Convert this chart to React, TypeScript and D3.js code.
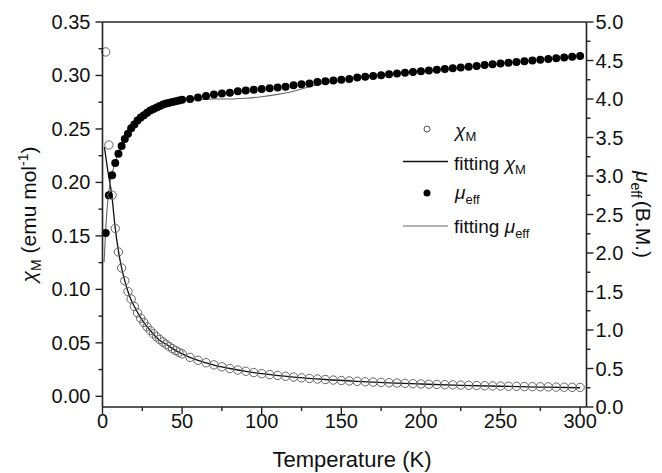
import React from "react";
import * as d3 from "d3";

// measured temperatures (K)
const temps = [
  2, 4, 6, 8, 10, 12, 14, 16, 18, 20, 22, 24, 26, 28, 30, 32, 34, 36, 38, 40, 42, 44, 46, 48, 50,
  55, 60, 65, 70, 75, 80, 85, 90, 95, 100, 105, 110, 115, 120, 125, 130, 135, 140, 145, 150,
  155, 160, 165, 170, 175, 180, 185, 190, 195, 200, 205, 210, 215, 220, 225, 230, 235, 240,
  245, 250, 255, 260, 265, 270, 275, 280, 285, 290, 295, 300,
];

// chi_M (emu/mol), open circles, left axis
const chiM = [
  0.322, 0.235, 0.188, 0.157, 0.135, 0.12, 0.108, 0.098, 0.091, 0.084, 0.078, 0.073, 0.069,
  0.065, 0.0615, 0.0585, 0.0556, 0.0531, 0.0508, 0.0486, 0.0464, 0.0445, 0.0428, 0.0412, 0.0397,
  0.0364, 0.0337, 0.0314, 0.0294, 0.0276, 0.026, 0.0246, 0.0234, 0.0222, 0.0212, 0.0203, 0.0195,
  0.0187, 0.018, 0.0173, 0.0167, 0.0162, 0.0157, 0.0152, 0.0148, 0.0144, 0.014, 0.0136, 0.0133,
  0.013, 0.0127, 0.0124, 0.0121, 0.0118, 0.0116, 0.0113, 0.0111, 0.0109, 0.0107, 0.0105, 0.0103,
  0.0101, 0.0099, 0.0097, 0.0096, 0.0094, 0.0093, 0.0091, 0.009, 0.0089, 0.0088, 0.0086, 0.0085,
  0.0084, 0.0083,
];

// mu_eff (B.M.), filled circles, right axis
const muEff = [
  2.26, 2.75, 3.01, 3.17, 3.29, 3.39, 3.48, 3.55, 3.62, 3.67, 3.72, 3.76, 3.79, 3.82, 3.85, 3.87,
  3.89, 3.91, 3.93, 3.94, 3.95, 3.96, 3.97, 3.98, 3.99, 4.0, 4.02, 4.04, 4.06, 4.07, 4.08, 4.1,
  4.11, 4.12, 4.13, 4.14, 4.15, 4.16, 4.18, 4.19, 4.2, 4.22, 4.23, 4.24, 4.25, 4.26, 4.28, 4.29,
  4.3, 4.31, 4.32, 4.33, 4.34, 4.35, 4.36, 4.37, 4.38, 4.39, 4.4, 4.41, 4.42, 4.43, 4.44, 4.45,
  4.46, 4.47, 4.48, 4.49, 4.5, 4.51, 4.52, 4.53, 4.54, 4.55, 4.56,
];

// fitted curves
const fitChiT = [1.2, 3, 6, 8, 10, 12, 14, 16, 18, 20, 25, 30, 35, 40, 45, 50, 60, 70, 80, 90, 100, 120, 140, 160, 180, 200, 225, 250, 275, 300];
const fitChi = [0.233, 0.214, 0.186, 0.157, 0.136, 0.12, 0.108, 0.098, 0.09, 0.084, 0.071, 0.0615, 0.0535, 0.0486, 0.0437, 0.0397, 0.0335, 0.0292, 0.026, 0.0233, 0.0212, 0.018, 0.0157, 0.014, 0.0126, 0.0115, 0.0103, 0.0094, 0.0086, 0.008];

const fitMuT = [1, 2, 3, 4, 5, 6, 8, 10, 12, 15, 20, 25, 30, 40, 50, 60, 70, 80, 90, 100, 110, 120, 130, 140, 150, 160, 180, 200, 220, 250, 280, 300];
const fitMu = [1.88, 2.3, 2.6, 2.8, 2.94, 3.03, 3.18, 3.3, 3.4, 3.53, 3.68, 3.78, 3.85, 3.94, 3.98, 3.99, 4.0, 4.0, 4.01, 4.03, 4.06, 4.1, 4.16, 4.21, 4.24, 4.27, 4.32, 4.36, 4.4, 4.46, 4.52, 4.56];

const xTicks = [0, 50, 100, 150, 200, 250, 300];
const xMinor = [25, 75, 125, 175, 225, 275];
const leftTicks = [0, 0.05, 0.1, 0.15, 0.2, 0.25, 0.3, 0.35];
const leftMinor = [0.025, 0.075, 0.125, 0.175, 0.225, 0.275, 0.325];
const rightTicks = [0, 0.5, 1, 1.5, 2, 2.5, 3, 3.5, 4, 4.5, 5];
const rightMinor = [0.25, 0.75, 1.25, 1.75, 2.25, 2.75, 3.25, 3.75, 4.25, 4.75];

const W = 662;
const H = 473;
const L = 102.5;
const R = 586.5;
const T = 22;
const B = 407;
const FONT = "'Liberation Sans', Arial, Helvetica, sans-serif";

const App = () => {
  const x = d3.scaleLinear().domain([0, 304]).range([L, R]);
  const yL = d3.scaleLinear().domain([-0.01, 0.35]).range([B, T]);
  const yR = d3.scaleLinear().domain([0, 5]).range([B, T]);

  const chiLine = d3
    .line<number>()
    .x((_, i) => x(fitChiT[i]))
    .y((d) => yL(d))
    .curve(d3.curveMonotoneX);
  const muLine = d3
    .line<number>()
    .x((_, i) => x(fitMuT[i]))
    .y((d) => yR(d))
    .curve(d3.curveMonotoneX);

  const axisColor = "#222";

  return (
    <svg
      width={W}
      height={H}
      style={{ position: "absolute", left: 0, top: 0, background: "#fff" }}
      fontFamily={FONT}
    >
      {/* fit curves */}
      <path d={chiLine(fitChi) || ""} fill="none" stroke="#111" strokeWidth={1.3} />
      <path d={muLine(fitMu) || ""} fill="none" stroke="#666" strokeWidth={1.1} />

      {/* mu_eff filled circles */}
      {muEff.map((v, i) => (
        <circle key={"m" + i} cx={x(temps[i])} cy={yR(v)} r={4} fill="#000" />
      ))}
      {/* chi open circles */}
      {chiM.map((v, i) => (
        <circle
          key={"c" + i}
          cx={x(temps[i])}
          cy={yL(v)}
          r={4.2}
          fill="none"
          stroke="#666"
          strokeWidth={1}
        />
      ))}

      {/* frame */}
      <line x1={L} x2={R} y1={T} y2={T} stroke={axisColor} strokeWidth={1.6} />
      <line x1={L} x2={R} y1={B} y2={B} stroke={axisColor} strokeWidth={1.6} />
      <line x1={L} x2={L} y1={T} y2={B} stroke={axisColor} strokeWidth={1.6} />
      <line x1={R} x2={R} y1={T} y2={B} stroke={axisColor} strokeWidth={1.6} />

      {/* bottom axis */}
      {xTicks.map((t) => (
        <g key={"xt" + t}>
          <line x1={x(t)} x2={x(t)} y1={B} y2={B + 7} stroke={axisColor} strokeWidth={1.4} />
          <text x={x(t)} y={B + 21} fontSize={20} textAnchor="middle" fill="#111">
            {t}
          </text>
        </g>
      ))}
      {xMinor.map((t) => (
        <line key={"xm" + t} x1={x(t)} x2={x(t)} y1={B} y2={B + 4} stroke={axisColor} strokeWidth={1.4} />
      ))}
      <text x={352} y={467} fontSize={22} textAnchor="middle" fill="#111">
        Temperature (K)
      </text>

      {/* left axis */}
      {leftTicks.map((t) => (
        <g key={"lt" + t}>
          <line x1={L - 7} x2={L} y1={yL(t)} y2={yL(t)} stroke={axisColor} strokeWidth={1.4} />
          <text x={L - 12} y={yL(t) + 7} fontSize={20} textAnchor="end" fill="#111">
            {d3.format(".2f")(t)}
          </text>
        </g>
      ))}
      {leftMinor.map((t) => (
        <line key={"lm" + t} x1={L - 4} x2={L} y1={yL(t)} y2={yL(t)} stroke={axisColor} strokeWidth={1.4} />
      ))}
      <text
        transform={`translate(36,${(T + B) / 2}) rotate(-90)`}
        fontSize={21}
        textAnchor="middle"
        fill="#111"
      >
        <tspan fontStyle="italic">χ</tspan>
        <tspan fontSize={14} dy={5}>M</tspan>
        <tspan dy={-5}> (emu mol</tspan>
        <tspan fontSize={14} dy={-8}>-1</tspan>
        <tspan dy={8}>)</tspan>
      </text>

      {/* right axis */}
      {rightTicks.map((t) => (
        <g key={"rt" + t}>
          <line x1={R} x2={R + 7} y1={yR(t)} y2={yR(t)} stroke={axisColor} strokeWidth={1.4} />
          <text x={R + 9} y={yR(t) + 7} fontSize={20} textAnchor="start" fill="#111">
            {d3.format(".1f")(t)}
          </text>
        </g>
      ))}
      {rightMinor.map((t) => (
        <line key={"rm" + t} x1={R} x2={R + 4} y1={yR(t)} y2={yR(t)} stroke={axisColor} strokeWidth={1.4} />
      ))}
      <text
        transform={`translate(636,${(T + B) / 2}) rotate(90)`}
        fontSize={21}
        textAnchor="middle"
        fill="#111"
      >
        <tspan fontStyle="italic">μ</tspan>
        <tspan fontSize={14} dy={5}>eff</tspan>
        <tspan dy={-5} dx={3}>(B.M.)</tspan>
      </text>

      {/* legend */}
      <g fontSize={19} fill="#111">
        <circle cx={427} cy={129} r={3} fill="none" stroke="#555" strokeWidth={1} />
        <text x={455} y={137}>
          <tspan fontStyle="italic">χ</tspan>
          <tspan fontSize={13} dy={4}>M</tspan>
        </text>
        <line x1={403} x2={448} y1={161.5} y2={161.5} stroke="#111" strokeWidth={1.4} />
        <text x={454} y={170}>
          <tspan>fitting </tspan>
          <tspan fontStyle="italic">χ</tspan>
          <tspan fontSize={13} dy={4}>M</tspan>
        </text>
        <circle cx={427} cy={193} r={3.5} fill="#000" />
        <text x={455} y={199}>
          <tspan fontStyle="italic">μ</tspan>
          <tspan fontSize={13} dy={5}>eff</tspan>
        </text>
        <line x1={403} x2={448} y1={226} y2={226} stroke="#666" strokeWidth={1.1} />
        <text x={454} y={233}>
          <tspan>fitting </tspan>
          <tspan fontStyle="italic">μ</tspan>
          <tspan fontSize={13} dy={5}>eff</tspan>
        </text>
      </g>
    </svg>
  );
};

export default App;
